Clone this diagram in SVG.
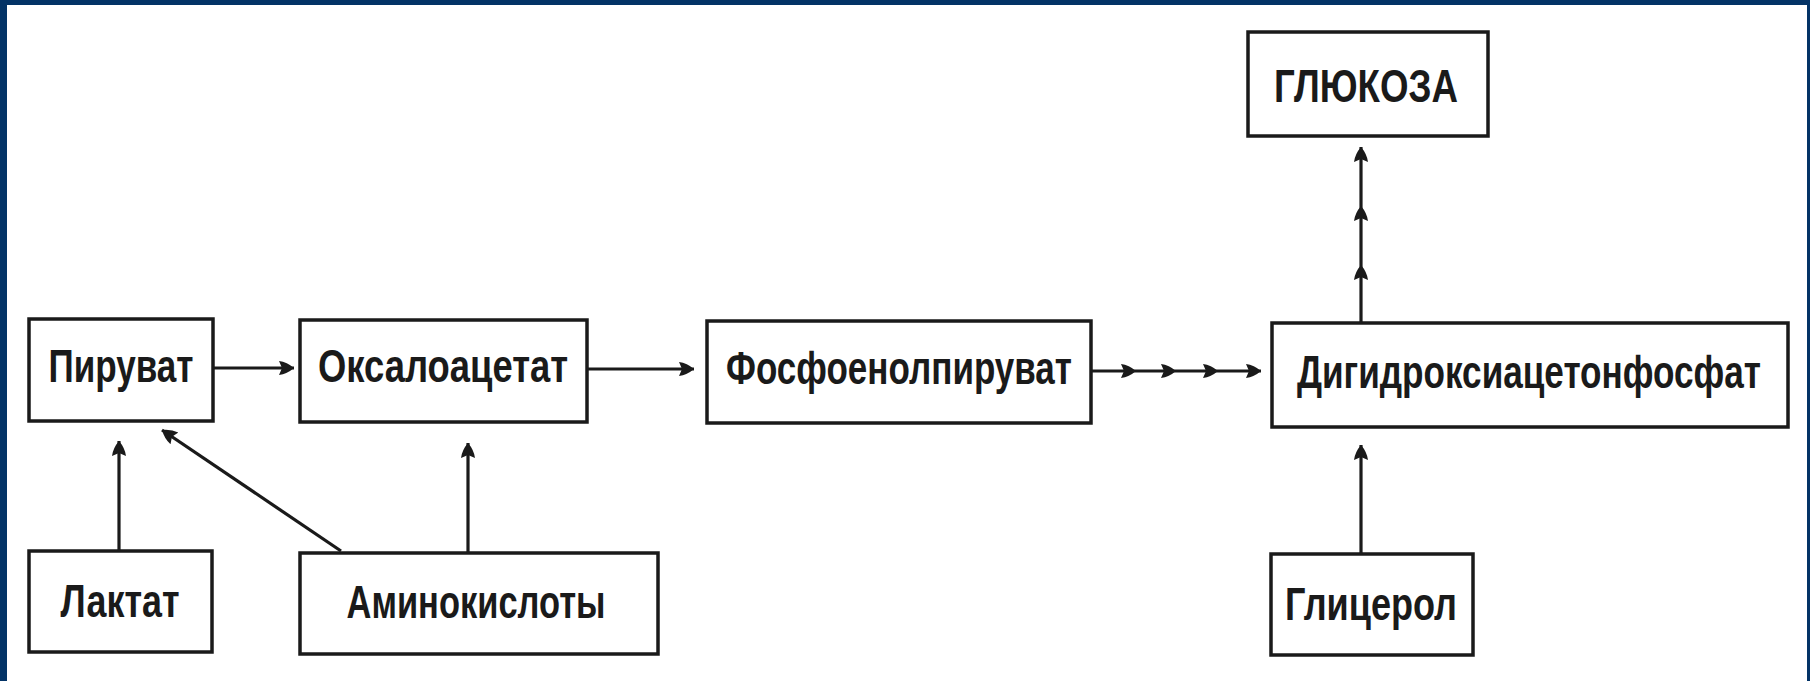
<svg xmlns="http://www.w3.org/2000/svg" width="1810" height="681" viewBox="0 0 1810 681">
<defs>
<style>
.box{fill:none;stroke:#1a1a1a;stroke-width:3.5}
.lbl{font-family:"Liberation Sans",Arial,sans-serif;font-weight:bold;font-size:46px;fill:#1a1a1a;text-anchor:middle}
.ln{stroke:#1a1a1a;stroke-width:3.2;fill:none;marker-end:url(#ah)}
</style>
<marker id="ah" viewBox="0 0 15 16" refX="15" refY="8" markerWidth="15" markerHeight="16" markerUnits="userSpaceOnUse" orient="auto">
<path d="M0,1 Q8,2 15,8 Q8,14 0,15 L3,8 z" fill="#1a1a1a"/>
</marker>
</defs>
<rect x="0" y="0" width="1810" height="681" fill="#033366"/>
<rect x="7" y="5" width="1800" height="676" fill="#ffffff"/>

<g id="piruvat"><rect class="box" x="29" y="319" width="184" height="102"/><text class="lbl" x="121" y="382" textLength="145" lengthAdjust="spacingAndGlyphs">Пируват</text></g>
<g id="oksaloacetat"><rect class="box" x="300" y="320" width="287" height="102"/><text class="lbl" x="443" y="382" textLength="250" lengthAdjust="spacingAndGlyphs">Оксалоацетат</text></g>
<g id="fosfoenolpiruvat"><rect class="box" x="707" y="321" width="384" height="102"/><text class="lbl" x="899" y="384" textLength="346" lengthAdjust="spacingAndGlyphs">Фосфоенолпируват</text></g>
<g id="digidroksiacetonfosfat"><rect class="box" x="1272" y="323" width="516" height="104"/><text class="lbl" x="1529" y="388" textLength="464" lengthAdjust="spacingAndGlyphs">Дигидроксиацетонфосфат</text></g>
<g id="glyukoza"><rect class="box" x="1248" y="32" width="240" height="104"/><text class="lbl" x="1366" y="102" textLength="184" lengthAdjust="spacingAndGlyphs">ГЛЮКОЗА</text></g>
<g id="laktat"><rect class="box" x="29" y="551" width="183" height="101"/><text class="lbl" x="120" y="617" textLength="119" lengthAdjust="spacingAndGlyphs">Лактат</text></g>
<g id="aminokisloty"><rect class="box" x="300" y="553" width="358" height="101"/><text class="lbl" x="476" y="618" textLength="259" lengthAdjust="spacingAndGlyphs">Аминокислоты</text></g>
<g id="glicerol"><rect class="box" x="1271" y="554" width="202" height="101"/><text class="lbl" x="1371" y="620" textLength="172" lengthAdjust="spacingAndGlyphs">Глицерол</text></g>

<g id="connectors">
<line class="ln" x1="213" y1="368" x2="294" y2="368"/>
<line class="ln" x1="587" y1="369" x2="694" y2="369"/>
<line class="ln" x1="1091" y1="371" x2="1136" y2="371"/>
<line class="ln" x1="1136" y1="371" x2="1176" y2="371"/>
<line class="ln" x1="1176" y1="371" x2="1218" y2="371"/>
<line class="ln" x1="1218" y1="371" x2="1261" y2="371"/>
<line class="ln" x1="1361" y1="323" x2="1361" y2="265"/>
<line class="ln" x1="1361" y1="265" x2="1361" y2="206"/>
<line class="ln" x1="1361" y1="206" x2="1361" y2="147"/>
<line class="ln" x1="1361" y1="554" x2="1361" y2="445"/>
<line class="ln" x1="119" y1="551" x2="119" y2="441"/>
<line class="ln" x1="341" y1="551" x2="162" y2="430"/>
<line class="ln" x1="468" y1="553" x2="468" y2="443"/>
</g>
</svg>
